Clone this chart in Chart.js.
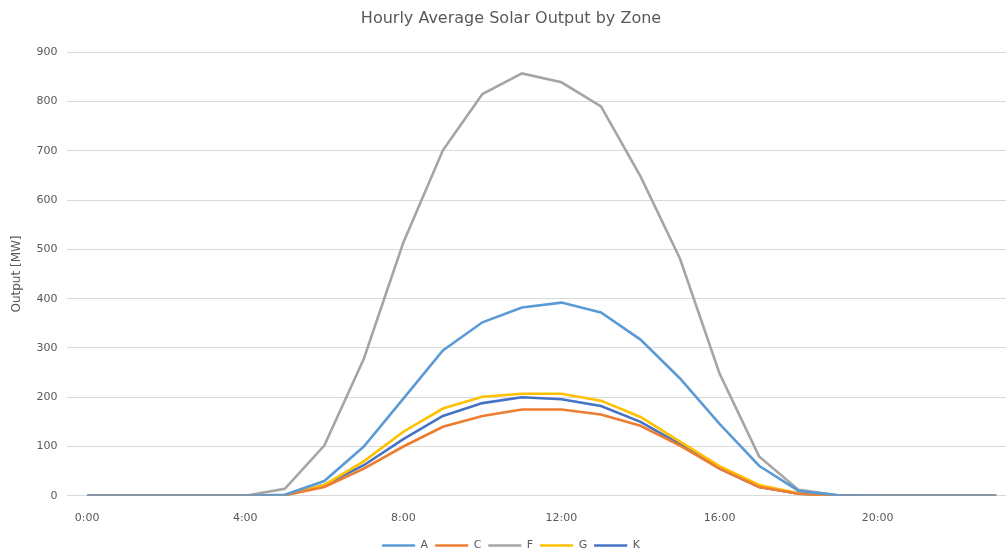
<!DOCTYPE html>
<html>
<head>
<meta charset="utf-8">
<script src="https://cdn.jsdelivr.net/npm/chart.js@4/dist/chart.umd.min.js"></script>
<style>
html,body{margin:0;padding:0;background:#fff;overflow:hidden;}
#wrap{position:relative;width:1016px;height:561px;}
</style>
</head>
<body>
<div id="wrap"><canvas id="c"></canvas></div>
<script>
const hours = ["0:00","1:00","2:00","3:00","4:00","5:00","6:00","7:00","8:00","9:00","10:00","11:00","12:00","13:00","14:00","15:00","16:00","17:00","18:00","19:00","20:00","21:00","22:00","23:00"];
const zoneA = [0,0,0,0,0,2,30,100,197,295,352,382,392,372,317,238,146,61,10,1,0,0,0,0];
const zoneC = [0,0,0,0,0,1,18,55,100,140,162,175,175,165,142,102,55,18,4,0,0,0,0,0];
const zoneF = [0,0,0,0,0,14,102,278,514,701,815,857,839,790,648,481,248,80,12,1,0,0,0,0];
const zoneG = [0,0,0,0,0,1,22,70,130,177,201,207,207,193,160,110,60,22,5,0,0,0,0,0];
const zoneK = [0,0,0,0,0,1,22,62,115,162,188,200,196,182,150,105,55,18,4,0,0,0,0,0];
const yTicks = [0,100,200,300,400,500,600,700,800,900];

const txt = '#595959';
const fam = "'DejaVu Sans', sans-serif";
function ds(label, data, color){
  return {label, data, borderColor: color, backgroundColor: color, borderWidth: 2.6,
    pointRadius: 0, pointHoverRadius: 0, tension: 0, fill: false, pointStyle: 'line'};
}
new Chart(document.getElementById('c'), {
  type: 'line',
  data: {
    labels: hours,
    datasets: [
      ds('A', zoneA, '#5B9BD5'),
      ds('C', zoneC, '#ED7D31'),
      ds('F', zoneF, '#A5A5A5'),
      ds('G', zoneG, '#FFC000'),
      ds('K', zoneK, '#4472C4')
    ]
  },
  options: {
    responsive: true,
    maintainAspectRatio: false,
    animation: false,
    layout: {padding: {left: 6, right: 0, top: 6, bottom: 0}},
    plugins: {
      title: {display: true, text: 'Hourly Average Solar Output by Zone', color: txt,
        font: {family: fam, size: 16, weight: 'normal'}, padding: {top: 3, bottom: 24}},
      legend: {position: 'bottom', labels: {color: txt, usePointStyle: true, pointStyleWidth: 33,
        boxHeight: 3, padding: 7, font: {family: fam, size: 11}}},
      tooltip: {enabled: false}
    },
    scales: {
      x: {
        offset: true,
        grid: {display: false},
        border: {display: false},
        ticks: {color: txt, font: {family: fam, size: 11}, autoSkip: false, maxRotation: 0, padding: 8,
          callback: function(v, i){ return i % 4 === 0 ? hours[i] : ''; }}
      },
      y: {
        min: 0, max: 900,
        afterBuildTicks: function(ax){ ax.ticks = yTicks.map(v => ({value: v})); },
        grid: {color: '#d9d9d9', lineWidth: 1, drawTicks: false},
        border: {display: false},
        ticks: {color: txt, font: {family: fam, size: 11}, padding: 10},
        title: {display: true, text: 'Output [MW]', color: txt, font: {family: fam, size: 12}, padding: {bottom: 2}}
      }
    }
  }
});
</script>
</body>
</html>
